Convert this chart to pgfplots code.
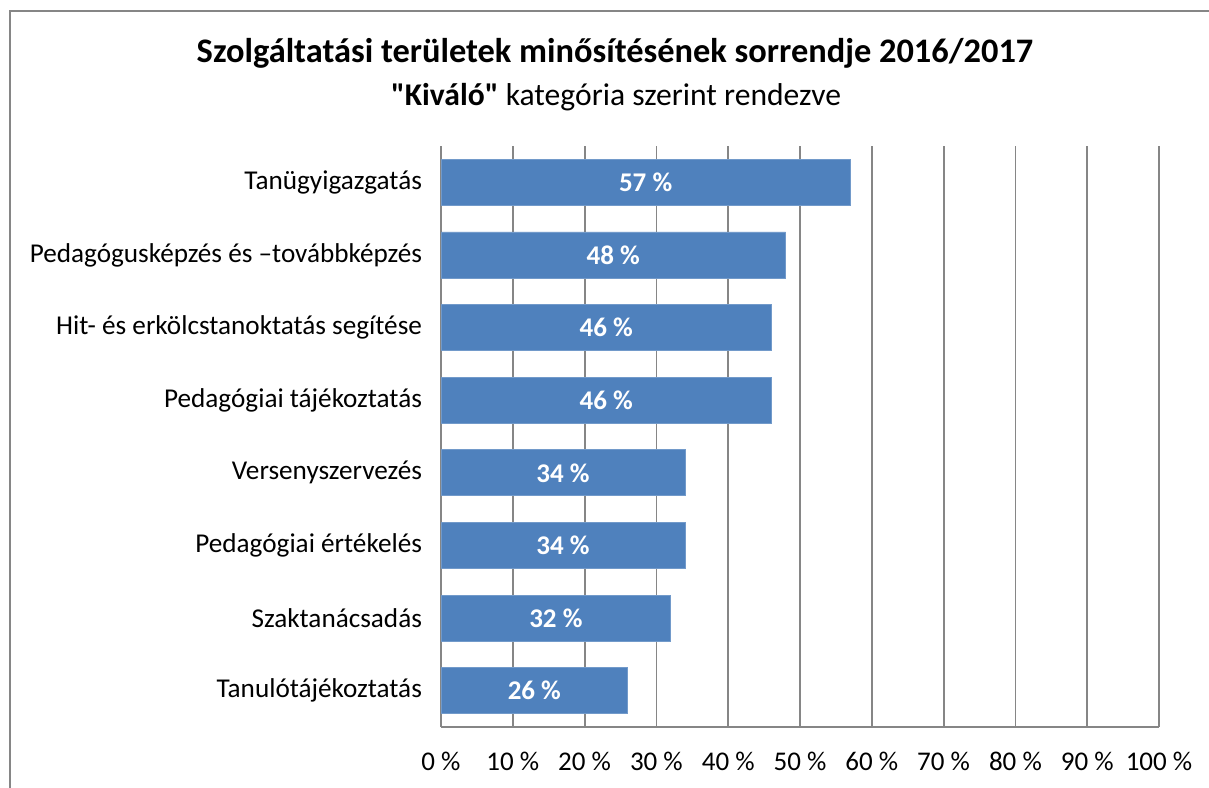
\documentclass[border=0pt]{standalone}
\usepackage{pgfplots}
\pgfplotsset{compat=1.18}
\usepackage{pgfplotstable}
\usepackage{fontspec}
\setmainfont{Carlito}[Ligatures=TeXOff]
\definecolor{barblue}{HTML}{4F81BD}
\definecolor{gridgray}{HTML}{868686}
\pgfplotstableread{
idx v
0 57
1 48
2 46
3 46
4 34
5 34
6 32
7 26
}\datatable
\begin{document}
\begin{tikzpicture}
\useasboundingbox (0,0) rectangle (604.5pt,393.5pt);
\draw[gridgray, line width=0.9pt] (5pt,-2pt) -- (5pt,388pt) -- (607pt,388pt);
\node[font=\fontsize{17.2}{20}\selectfont\bfseries] at (307.5pt,367pt) {Szolgáltatási területek minősítésének sorrendje 2016/2017};
\node[font=\fontsize{15.8}{18}\selectfont] at (308pt,345pt) {\textbf{\char"22 Kiváló\char"22} kategória szerint rendezve};
\begin{axis}[
  at={(220.5pt,30pt)}, anchor=south west,
  scale only axis, width=359pt, height=290.5pt,
  xmin=0, xmax=100, ymin=-0.5, ymax=7.5,
  y dir=reverse,
  axis x line*=bottom, axis y line*=left,
  axis line style={gridgray, line width=0.9pt},
  xmajorgrids, grid style={gridgray, line width=0.9pt},
  major tick length=0pt,
  xtick={0,10,...,100},
  xticklabels={0 \%,10 \%,20 \%,30 \%,40 \%,50 \%,60 \%,70 \%,80 \%,90 \%,100 \%},
  xticklabel style={font=\fontsize{13.5}{16}\selectfont, yshift=-9pt},
  ytick={0,...,7},
  yticklabels={Tanügyigazgatás, Pedagógusképzés és –továbbképzés, Hit- és erkölcstanoktatás segítése, Pedagógiai tájékoztatás, Versenyszervezés, Pedagógiai értékelés, Szaktanácsadás, Tanulótájékoztatás},
  yticklabel style={font=\fontsize{13.6}{16}\selectfont, xshift=-6pt},
  /pgf/number format/assume math mode=true,
  clip=false,
]
\addplot[xbar, bar width=23pt, fill=barblue, draw=barblue!80!white] table[x=v, y=idx] {\datatable};
\addplot[draw=none, mark=none, nodes near coords={\pgfmathprintnumber{\pgfplotspointmeta}~\%},
  point meta=explicit,
  every node near coord/.append style={anchor=center, text=white, font=\fontsize{13.5}{16}\selectfont\bfseries}]
  table[x expr=\thisrow{v}/2, y=idx, meta=v] {\datatable};
\end{axis}
\end{tikzpicture}
\end{document}
